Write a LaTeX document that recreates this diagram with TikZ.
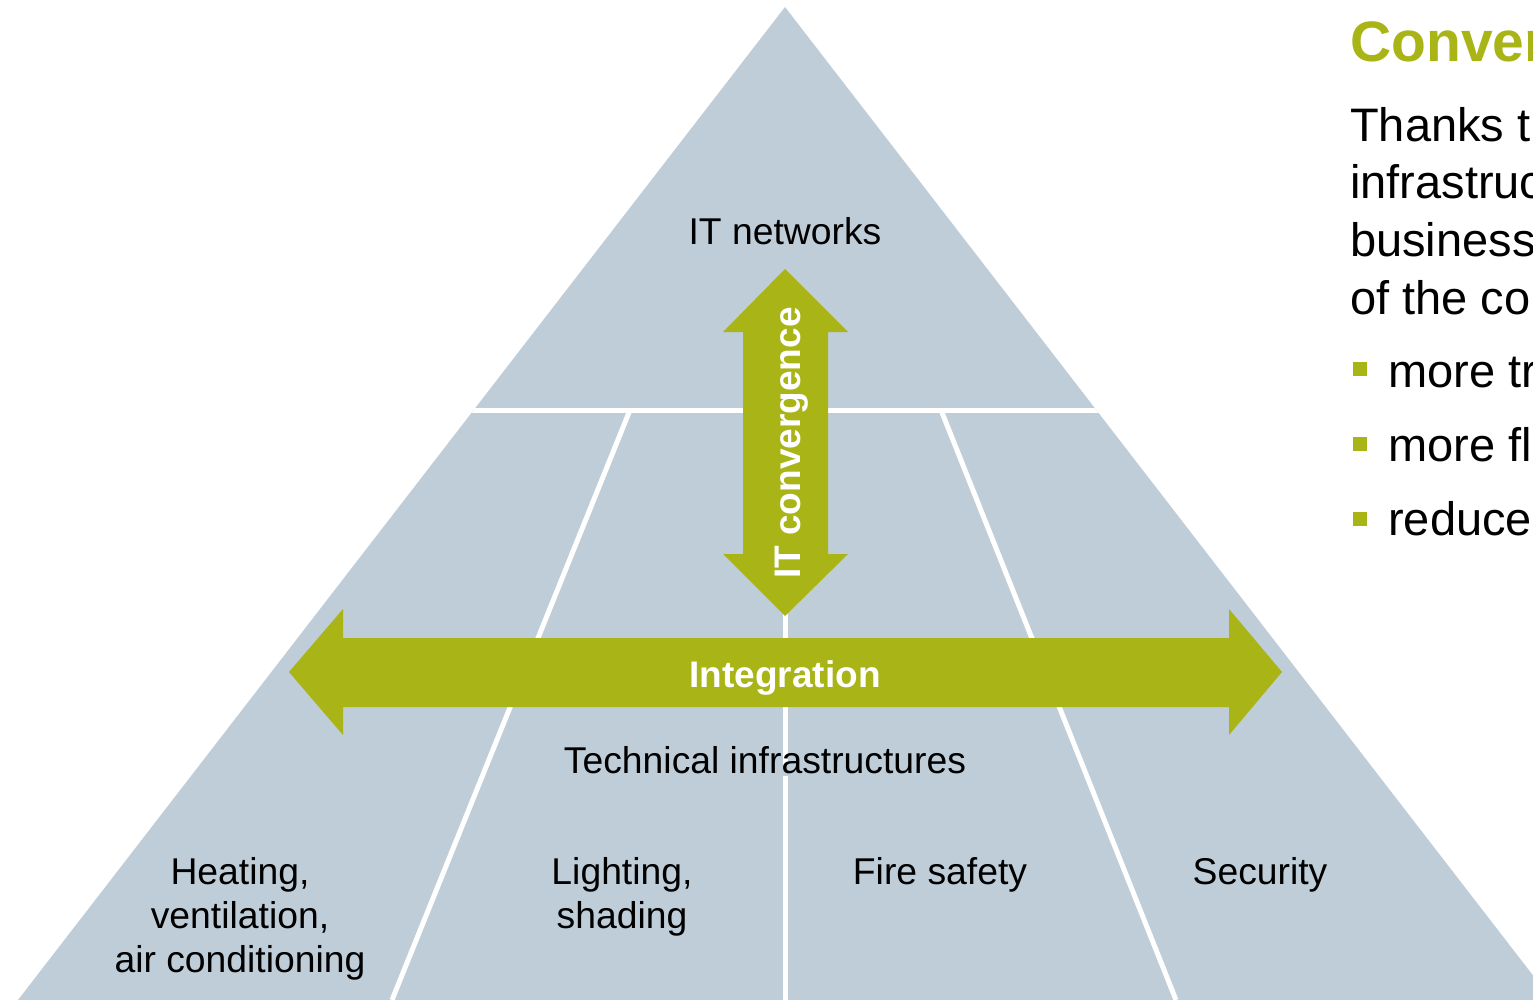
\documentclass[tikz,border=0pt]{standalone}
\usepackage{fontspec}
\setmainfont{Liberation Sans}
\definecolor{pyr}{RGB}{191,205,216}
\definecolor{lime}{RGB}{169,180,22}
\begin{document}
\begin{tikzpicture}[x=1pt,y=-1pt,
  lbl/.style={font=\fontsize{37.3}{44}\selectfont, text=black, inner sep=0pt, align=center},
  sep/.style={draw=white, line width=5pt},
  bigarrow/.style={fill=lime, draw=none},
  arrowlbl/.style={font=\fontsize{37}{44}\selectfont\bfseries, text=white, inner sep=0pt},
  body/.style={font=\fontsize{47}{57.8}\selectfont, inner sep=0pt, anchor=base west, align=left},
  bullet/.style={fill=lime, draw=none, minimum size=14pt, inner sep=0pt}]
\useasboundingbox (0,0) rectangle (1533,1000);
\clip (0,0) rectangle (1533,1000);
% pyramid
\coordinate (apex) at (785,7);
\coordinate (bl) at (18,1000);
\coordinate (br) at (1552,1000);
\fill[pyr] (apex) -- (bl) -- (br) -- cycle;
\begin{scope}
  \clip (apex) -- (bl) -- (br) -- cycle;
  \coordinate (hl) at (0,410);
  \coordinate (hr) at (1533,410);
  \coordinate (d1t) at (630,410);
  \coordinate (d1b) at (392,1000);
  \coordinate (d2t) at (941,410);
  \coordinate (d2b) at (1176,1000);
  \coordinate (vt) at (785,410);
  \coordinate (vb) at (785,1000);
  \draw[sep] (hl) -- (hr);
  \draw[sep] (d1t) -- (d1b);
  \draw[sep] (d2t) -- (d2b);
  \draw[sep] (vt) -- (vb);
\end{scope}
% arrows
\fill[bigarrow] (785,269) -- (848,332) -- (828,332) -- (828,554) -- (848,554) -- (785,616)
  -- (723,554) -- (743,554) -- (743,332) -- (723,332) -- cycle;
\fill[bigarrow] (289,672) -- (343,609) -- (343,638) -- (1229,638) -- (1229,609) -- (1282,672)
  -- (1229,735) -- (1229,707) -- (343,707) -- (343,735) -- cycle;
\node[arrowlbl, rotate=90, anchor=base] (itc) at (800,443) {IT convergence};
\node[arrowlbl, anchor=base] (integ) at (785,687) {Integration};
% labels
\node[lbl, anchor=base] (itn) at (785,245) {IT networks};
\node[lbl, anchor=base, fill=pyr, text height=0.76em, text depth=0.26em] (tech) at (765,773) {Technical infrastructures};
\node[lbl, anchor=base] (hvac) at (240,972) {Heating,\\ventilation,\\air conditioning};
\node[lbl, anchor=base] (light) at (622,928) {Lighting,\\shading};
\node[lbl, anchor=base] (fire) at (940,884) {Fire safety};
\node[lbl, anchor=base] (sec) at (1260,884) {Security};
% right text
\node[font=\fontsize{57}{66}\selectfont\bfseries, text=lime, inner sep=0pt, anchor=base west] (title) at (1350,62) {Conver};
\node[body] (para) at (1350,314.5) {Thanks t\\infrastruc\\business\\of the co};
\node[bullet] (b1) at (1360,368.5) {};
\node[bullet] (b2) at (1360,443.5) {};
\node[bullet] (b3) at (1360,518.5) {};
\node[body] (t1) at (1388,387) {more tr};
\node[body] (t2) at (1388,461) {more fl};
\node[body] (t3) at (1388,535) {reduce};
\end{tikzpicture}
\end{document}
